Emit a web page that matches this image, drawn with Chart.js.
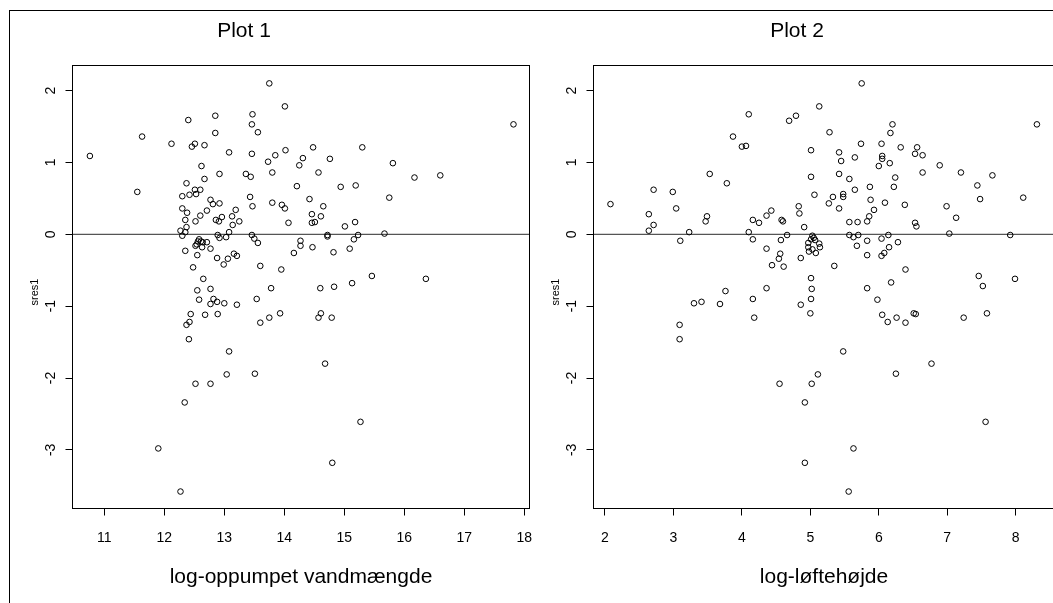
<!DOCTYPE html>
<html>
<head>
<meta charset="utf-8">
<script src="https://cdn.jsdelivr.net/npm/chart.js@4.4.1/dist/chart.umd.min.js"></script>
<style>
  html, body { margin: 0; padding: 0; background: #fff; overflow: hidden; width: 1053px; height: 603px; }
  #frame { position: absolute; left: 9px; top: 10px; width: 1200px; height: 800px;
           border-left: 1px solid #000; border-top: 1px solid #000; }
  canvas { position: absolute; top: 0; }
  #c1 { left: 0; }
  #c2 { left: 540px; }
</style>
</head>
<body>
<div id="frame"></div>
<canvas id="c1" width="550" height="603"></canvas>
<canvas id="c2" width="520" height="603"></canvas>
<script>
// Standardised residuals (sres1) against log pumped water volume, [x, sres1]
const vandmaengdePts = [
  [13.75,2.10],[14.01,1.78],[13.47,1.67],[12.85,1.65],[12.40,1.59],[13.46,1.53],[12.85,1.41],[13.56,1.42],
  [11.63,1.36],[12.12,1.26],[12.51,1.26],[12.46,1.22],[12.67,1.24],[13.08,1.14],[13.46,1.12],[14.02,1.17],
  [13.85,1.10],[13.73,1.01],[10.76,1.09],[12.62,0.95],[13.80,0.86],[12.92,0.84],[13.36,0.84],[13.44,0.80],
  [12.67,0.77],[12.37,0.71],[14.21,0.67],[11.55,0.59],[12.51,0.62],[12.60,0.62],[12.53,0.56],[12.42,0.55],
  [12.30,0.53],[13.43,0.52],[12.77,0.48],[12.81,0.42],[12.92,0.43],[13.47,0.39],[13.80,0.44],[13.96,0.41],
  [14.01,0.36],[12.30,0.36],[12.38,0.30],[12.71,0.33],[13.19,0.34],[12.60,0.26],[12.35,0.20],[12.52,0.18],
  [12.86,0.20],[12.91,0.18],[12.96,0.24],[13.13,0.25],[13.14,0.13],[13.25,0.18],[14.07,0.16],[12.37,0.10],
  [12.27,0.05],[12.30,-0.02],[12.35,0.03],[13.08,0.03],[13.03,-0.04],[12.89,-0.01],[12.92,-0.05],[13.46,-0.01],
  [13.50,-0.06],[13.56,-0.12],[12.58,-0.07],[12.56,-0.10],[12.61,-0.10],[12.54,-0.14],[12.52,-0.16],[12.63,-0.18],
  [12.71,-0.11],[12.64,-0.11],[12.77,-0.20],[12.35,-0.23],[12.55,-0.29],[12.88,-0.33],[13.06,-0.34],[13.16,-0.27],
  [13.21,-0.30],[12.99,-0.42],[13.60,-0.44],[14.16,-0.26],[12.48,-0.46],[13.95,-0.49],[12.65,-0.62],[12.55,-0.78],
  [12.77,-0.76],[13.78,-0.75],[12.58,-0.91],[12.82,-0.90],[12.77,-0.97],[12.88,-0.94],[13.00,-0.96],[13.21,-0.98],
  [13.54,-0.90],
  [17.82,1.53],[14.48,1.21],[15.30,1.21],[14.31,1.06],[14.76,1.05],[14.25,0.96],[15.81,0.99],[14.57,0.86],
  [16.17,0.79],[16.60,0.82],[14.94,0.66],[15.19,0.68],[15.75,0.51],[14.42,0.49],[14.65,0.39],[14.46,0.28],
  [14.61,0.25],[14.46,0.16],[14.51,0.17],[15.01,0.11],[15.18,0.17],[14.72,-0.01],[14.72,-0.03],[15.23,-0.01],
  [15.16,-0.07],[15.67,0.01],[14.27,-0.09],[14.27,-0.16],[14.47,-0.18],[14.82,-0.25],[15.09,-0.20],[15.46,-0.58],
  [16.36,-0.62],[14.60,-0.75],[14.83,-0.73],[15.13,-0.68],
  [12.44,-1.11],[12.68,-1.12],[12.89,-1.11],[12.42,-1.22],[12.37,-1.26],[12.41,-1.46],[13.08,-1.63],[13.60,-1.23],
  [13.75,-1.16],[13.93,-1.10],[12.52,-2.08],[12.77,-2.08],[13.04,-1.95],[13.51,-1.94],[12.34,-2.34],[11.90,-2.98],
  [12.27,-3.58],
  [14.57,-1.16],[14.61,-1.10],[14.79,-1.16],[14.68,-1.80],[15.27,-2.61],[14.80,-3.18]
];

// Standardised residuals (sres1) against log lifting height, [x, sres1]
const loftehojdePts = [
  [2.08,0.42],[2.71,0.62],[2.64,0.28],[2.71,0.13],[2.64,0.05],[2.99,0.59],[3.04,0.36],[3.10,-0.09],
  [3.23,0.03],[3.53,0.84],[3.49,0.25],[3.47,0.18],[3.78,0.71],[3.87,1.36],[4.00,1.22],[4.06,1.23],
  [4.10,1.67],[4.10,0.03],[4.16,-0.07],[4.16,0.20],[4.25,0.16],[4.36,0.26],[4.43,0.33],[4.36,-0.20],
  [4.56,-0.27],[4.54,-0.34],[4.44,-0.43],[4.61,-0.45],[4.58,0.20],[4.60,0.18],[4.57,-0.08],[4.66,-0.01],
  [4.69,1.58],[4.79,1.65],[4.83,0.39],[4.84,0.29],[4.91,0.10],[4.86,-0.33],[4.36,-0.75],[3.76,-0.79],
  [4.16,-0.90],[3.30,-0.96],[3.41,-0.94],[3.68,-0.97],[4.86,-0.98],
  [5.75,2.10],[5.13,1.78],[5.28,1.42],[6.20,1.53],[6.17,1.41],[5.01,1.17],[5.74,1.26],[6.04,1.26],
  [5.42,1.14],[5.45,1.02],[5.65,1.07],[6.05,1.09],[6.05,1.05],[6.00,0.95],[6.16,0.99],[6.32,1.21],
  [6.56,1.21],[6.53,1.12],[6.64,1.10],[6.89,0.96],[7.20,0.86],[7.66,0.82],[8.31,1.53],[5.01,0.80],
  [5.42,0.84],[5.57,0.77],[6.24,0.79],[6.64,0.86],[6.22,0.66],[5.87,0.66],[5.65,0.62],[5.06,0.55],
  [5.33,0.52],[5.48,0.56],[5.48,0.52],[5.27,0.43],[5.88,0.48],[6.09,0.44],[6.38,0.41],[5.42,0.36],
  [5.93,0.34],[7.44,0.68],[7.48,0.49],[8.11,0.51],[6.99,0.39],[7.13,0.23],[5.86,0.25],[5.57,0.17],
  [5.69,0.17],[5.83,0.18],[6.53,0.16],[6.55,0.11],[7.03,0.01],[7.92,-0.01],[5.57,-0.01],[5.63,-0.04],
  [5.70,-0.01],[6.04,-0.06],[6.14,-0.01],[5.83,-0.09],[5.68,-0.16],[6.28,-0.11],[6.15,-0.18],[6.08,-0.26],
  [6.04,-0.30],[5.83,-0.29],[5.35,-0.44],[6.39,-0.49],[7.46,-0.58],[7.52,-0.72],[7.99,-0.62],[5.83,-0.75],
  [6.18,-0.67],[5.98,-0.91],[5.01,-0.61],[5.02,-0.76],[5.01,-0.90],
  [5.03,-0.02],[5.05,-0.05],[5.01,-0.07],[5.07,-0.08],[4.97,-0.12],[5.13,-0.13],[4.97,-0.18],[5.14,-0.18],
  [4.98,-0.24],[5.03,-0.21],[5.08,-0.26],
  [5.00,-1.10],[4.18,-1.16],[3.09,-1.26],[3.09,-1.46],[4.55,-2.08],[5.02,-2.08],[4.92,-2.34],[6.05,-1.12],
  [6.13,-1.22],[6.26,-1.16],[6.39,-1.23],[6.51,-1.10],[6.54,-1.11],[7.24,-1.16],[7.58,-1.10],[5.48,-1.63],
  [6.77,-1.80],[5.11,-1.95],[5.56,-3.58],[5.63,-2.98],[6.25,-1.94],[7.56,-2.61],[4.92,-3.18]
];

// Tick labels
const xTicksVand = [11, 12, 13, 14, 15, 16, 17, 18];
const xTicksLoft = [2, 3, 4, 5, 6, 7, 8];
const yTicks = [-3, -2, -1, 0, 1, 2];

// Axis ranges
const xRangeVand = [10.47, 18.087];
const xRangeLoft = [1.832, 8.567];
const yRange = [-3.816, 2.349];

const FONT = '"Liberation Sans", Arial, Helvetica, sans-serif';
Chart.defaults.font.family = FONT;
Chart.defaults.color = '#000';

// Box around the plot region, rotated y tick labels and the panel texts
const rDecor = {
  id: 'rDecor',
  afterDraw(chart, args, o) {
    const { ctx, chartArea: a, scales } = chart;
    const y = scales.y;
    ctx.save();
    ctx.strokeStyle = '#000';
    ctx.lineWidth = 1;
    ctx.strokeRect(a.left, a.top, a.right - a.left, a.bottom - a.top);

    ctx.fillStyle = '#000';
    ctx.textAlign = 'center';
    ctx.textBaseline = 'middle';
    ctx.font = '14px ' + FONT;
    for (const t of y.ticks) {
      const py = y.getPixelForValue(t.value);
      ctx.save();
      ctx.translate(a.left - 21, py);
      ctx.rotate(-Math.PI / 2);
      ctx.fillText(String(t.value), 0, 0);
      ctx.restore();
    }

    ctx.font = '21px ' + FONT;
    ctx.fillText(o.title, o.titleX, 31);
    ctx.fillText(o.xlab, (a.left + a.right) / 2, 577);

    ctx.font = '11px ' + FONT;
    ctx.save();
    ctx.translate(a.left - 38, 292);
    ctx.rotate(-Math.PI / 2);
    ctx.fillText(o.ylab, 0, 0);
    ctx.restore();
    ctx.restore();
  }
};

function makePanel(id, pts, xRange, xTicks, padding, decor) {
  return new Chart(document.getElementById(id), {
    type: 'scatter',
    data: {
      datasets: [
        {
          data: pts.map(p => ({ x: p[0], y: p[1] })),
          pointStyle: 'circle',
          pointRadius: 2.8,
          borderWidth: 1,
          borderColor: '#000',
          backgroundColor: 'rgba(0,0,0,0)',
          order: 1
        },
        {
          data: [{ x: xRange[0], y: 0 }, { x: xRange[1], y: 0 }],
          showLine: true,
          pointRadius: 0,
          borderColor: '#555',
          borderWidth: 1.3,
          order: 2
        }
      ]
    },
    options: {
      responsive: false,
      animation: false,
      events: [],
      layout: { padding },
      plugins: { legend: { display: false }, tooltip: { enabled: false }, title: { display: false }, rDecor: decor },
      scales: {
        x: {
          type: 'linear',
          min: xRange[0],
          max: xRange[1],
          afterBuildTicks: s => { s.ticks = xTicks.map(v => ({ value: v })); },
          afterFit: s => { s.height = 60; },
          grid: { display: true, drawOnChartArea: false, drawTicks: true, tickLength: 7, color: '#000', lineWidth: 1 },
          border: { display: false },
          ticks: { color: '#000', font: { size: 14 }, padding: 14, maxRotation: 0, autoSkip: false }
        },
        y: {
          type: 'linear',
          min: yRange[0],
          max: yRange[1],
          afterBuildTicks: s => { s.ticks = yTicks.map(v => ({ value: v })); },
          afterFit: s => { s.width = 40; },
          grid: { display: true, drawOnChartArea: false, drawTicks: true, tickLength: 7, color: '#000', lineWidth: 1 },
          border: { display: false },
          ticks: { display: false }
        }
      }
    },
    plugins: [rDecor]
  });
}

makePanel('c1', vandmaengdePts, xRangeVand, xTicksVand,
  { left: 32.5, right: 20.5, top: 65.5, bottom: 34.5 },
  { title: 'Plot 1', titleX: 244, xlab: 'log-oppumpet vandmængde', ylab: 'sres1' });

makePanel('c2', loftehojdePts, xRangeLoft, xTicksLoft,
  { left: 13.5, right: 5.5, top: 65.5, bottom: 34.5 },
  { title: 'Plot 2', titleX: 257, xlab: 'log-løftehøjde', ylab: 'sres1' });
</script>
</body>
</html>
